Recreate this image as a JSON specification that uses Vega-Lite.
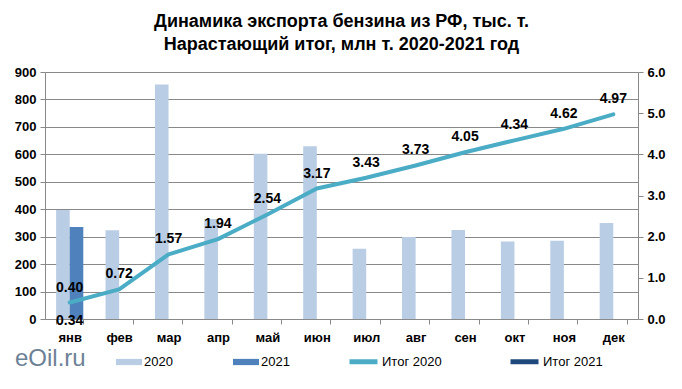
{
  "$schema": "https://vega.github.io/schema/vega-lite/v6.json",
  "width": 593,
  "height": 247,
  "autosize": {"type": "none"},
  "padding": {"left": 45, "top": 72, "right": 44, "bottom": 70},
  "background": "white",
  "title": {
    "text": ["Динамика экспорта бензина из РФ, тыс. т.", "Нарастающий итог, млн т. 2020-2021 год"],
    "fontSize": 18,
    "fontWeight": "bold",
    "font": "Liberation Sans",
    "color": "black",
    "anchor": "middle",
    "lineHeight": 23,
    "offset": 12
  },
  "config": {
    "view": {"stroke": null},
    "font": "Liberation Sans",
    "axis": {
      "labelFont": "Liberation Sans",
      "labelFontSize": 13,
      "labelFontWeight": "bold",
      "labelColor": "black",
      "domainColor": "#898989",
      "tickColor": "#898989",
      "tickSize": 5,
      "gridColor": "#898989",
      "title": null
    },
    "legend": {
      "labelFont": "Liberation Sans",
      "labelFontSize": 13,
      "labelColor": "black",
      "padding": 0
    }
  },
  "datasets": {
    "bars": [
      {"month": "янв", "series": "2020", "value": 397},
      {"month": "янв", "series": "2021", "value": 335},
      {"month": "фев", "series": "2020", "value": 323},
      {"month": "мар", "series": "2020", "value": 854},
      {"month": "апр", "series": "2020", "value": 364},
      {"month": "май", "series": "2020", "value": 602},
      {"month": "июн", "series": "2020", "value": 629},
      {"month": "июл", "series": "2020", "value": 256},
      {"month": "авг", "series": "2020", "value": 299},
      {"month": "сен", "series": "2020", "value": 324},
      {"month": "окт", "series": "2020", "value": 282},
      {"month": "ноя", "series": "2020", "value": 285},
      {"month": "дек", "series": "2020", "value": 350}
    ],
    "totals": [
      {"month": "янв", "series": "Итог 2020", "total": 0.40},
      {"month": "фев", "series": "Итог 2020", "total": 0.72},
      {"month": "мар", "series": "Итог 2020", "total": 1.57},
      {"month": "апр", "series": "Итог 2020", "total": 1.94},
      {"month": "май", "series": "Итог 2020", "total": 2.54},
      {"month": "июн", "series": "Итог 2020", "total": 3.17},
      {"month": "июл", "series": "Итог 2020", "total": 3.43},
      {"month": "авг", "series": "Итог 2020", "total": 3.73},
      {"month": "сен", "series": "Итог 2020", "total": 4.05},
      {"month": "окт", "series": "Итог 2020", "total": 4.34},
      {"month": "ноя", "series": "Итог 2020", "total": 4.62},
      {"month": "дек", "series": "Итог 2020", "total": 4.97},
      {"month": "янв", "series": "Итог 2021", "total": 0.34}
    ]
  },
  "layer": [
    {
      "data": {"name": "bars"},
      "mark": {"type": "bar"},
      "encoding": {
        "x": {
          "field": "month",
          "type": "nominal",
          "sort": ["янв", "фев", "мар", "апр", "май", "июн", "июл", "авг", "сен", "окт", "ноя", "дек"],
          "scale": {"paddingInner": 0.45, "paddingOuter": 0.225},
          "axis": {"labelAngle": 0, "tickBand": "extent", "labelPadding": 7, "title": null}
        },
        "xOffset": {
          "field": "series",
          "type": "nominal",
          "scale": {"domain": ["2020", "2021"], "paddingInner": 0, "paddingOuter": 0}
        },
        "y": {
          "field": "value",
          "type": "quantitative",
          "scale": {"domain": [0, 900]},
          "axis": {"values": [0, 100, 200, 300, 400, 500, 600, 700, 800, 900], "grid": true, "labelPadding": 4, "title": null}
        },
        "fill": {
          "field": "series",
          "type": "nominal",
          "scale": {"domain": ["2020", "2021"], "range": ["#B9CDE5", "#4F81BD"]},
          "legend": {
            "orient": "none",
            "legendX": -30,
            "legendY": 277,
            "direction": "horizontal",
            "title": "eOil.ru",
            "titleOrient": "left",
            "titleFontSize": 24,
            "titleFontWeight": "normal",
            "titleColor": "#6d8196",
            "titlePadding": 30,
            "symbolType": "M-1,-0.24H1V0.24H-1Z",
            "symbolSize": 676,
            "symbolStrokeWidth": 0,
            "labelOffset": 2,
            "columnPadding": 60
          }
        }
      }
    },
    {
      "data": {"name": "totals"},
      "encoding": {
        "x": {
          "field": "month",
          "type": "nominal",
          "sort": ["янв", "фев", "мар", "апр", "май", "июн", "июл", "авг", "сен", "окт", "ноя", "дек"]
        },
        "y": {
          "field": "total",
          "type": "quantitative",
          "scale": {"domain": [0, 6]},
          "axis": {"orient": "right", "values": [0, 1, 2, 3, 4, 5, 6], "format": ".1f", "grid": false, "labelPadding": 4, "title": null}
        }
      },
      "layer": [
        {
          "transform": [{"filter": "datum.series == 'Итог 2020'"}],
          "mark": {"type": "line", "strokeWidth": 4, "strokeCap": "round", "strokeJoin": "round"},
          "encoding": {
            "stroke": {
              "field": "series",
              "type": "nominal",
              "scale": {"domain": ["Итог 2020", "Итог 2021"], "range": ["#4BACC6", "#1F497D"]},
              "legend": {
                "orient": "none",
                "legendX": 302,
                "legendY": 273,
                "direction": "horizontal",
                "title": null,
                "symbolType": "stroke",
                "symbolSize": 784,
                "symbolStrokeWidth": 5,
                "labelOffset": 2,
                "columnPadding": 58
              }
            }
          }
        },
        {
          "transform": [{"filter": "datum.series == 'Итог 2020'"}],
          "mark": {"type": "text", "dy": -15, "fontWeight": "bold", "fontSize": 14, "color": "black"},
          "encoding": {"text": {"field": "total", "type": "quantitative", "format": ".2f"}}
        },
        {
          "transform": [{"filter": "datum.series == 'Итог 2021'"}],
          "mark": {"type": "text", "dy": 16, "fontWeight": "bold", "fontSize": 14, "color": "black"},
          "encoding": {"text": {"field": "total", "type": "quantitative", "format": ".2f"}}
        }
      ]
    }
  ],
  "resolve": {"scale": {"y": "independent"}}
}
